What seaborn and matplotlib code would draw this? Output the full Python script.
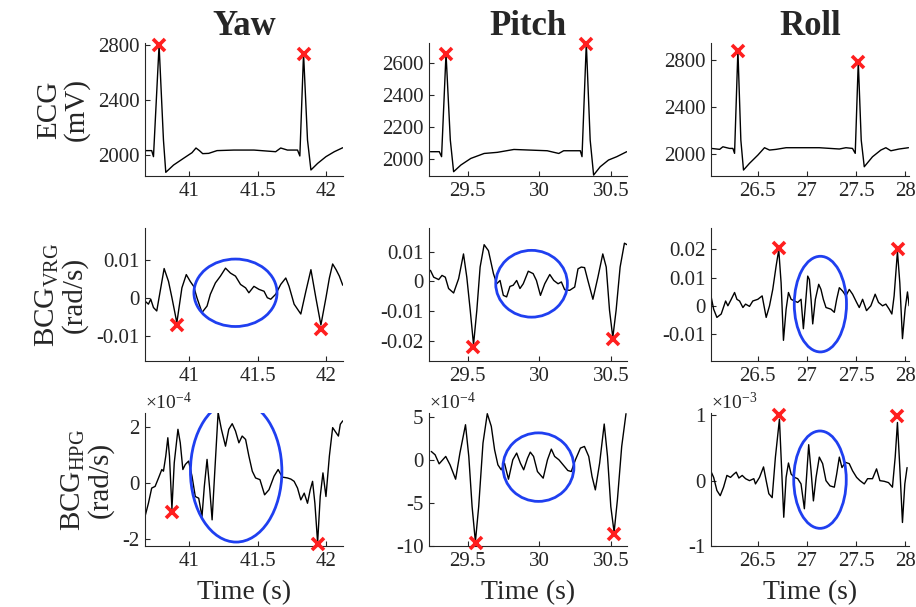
import matplotlib
matplotlib.use("Agg")
import matplotlib.pyplot as plt
from matplotlib.patches import Ellipse
from matplotlib.ticker import FuncFormatter
import seaborn as sns

# --- data ---
# Yaw
yaw_ecg_t = [40.676, 40.725, 40.738, 40.779, 40.811, 40.828, 40.885, 40.958, 41.020, 41.049,
             41.074, 41.098, 41.142, 41.203, 41.326, 41.473, 41.632, 41.669, 41.718, 41.792,
             41.809, 41.836, 41.865, 41.890, 41.939, 42.000, 42.061, 42.123]
yaw_ecg = [2032, 2032, 1988, 2800, 2109, 1874, 1927, 1976, 2017, 2051,
           2032, 2010, 2012, 2032, 2036, 2036, 2024, 2051, 2036, 2036,
           1993, 2739, 2109, 1891, 1939, 1988, 2024, 2053]

yaw_vrg_t = [40.676, 40.701, 40.718, 40.738, 40.762, 40.787, 40.816, 40.848, 40.873, 40.909,
             40.946, 40.978, 41.007, 41.032, 41.056, 41.093, 41.130, 41.154, 41.191, 41.228,
             41.265, 41.301, 41.338, 41.375, 41.412, 41.436, 41.473, 41.510, 41.547, 41.571,
             41.596, 41.632, 41.669, 41.706, 41.730, 41.767, 41.816, 41.853, 41.890, 41.926,
             41.963, 42.000, 42.025, 42.049, 42.074, 42.098, 42.123]
yaw_vrg = [-0.0009, -0.0017, -0.0004, -0.0026, -0.0035, 0.0017, 0.0077, 0.0043, 0.0000, -0.0066,
           0.0026, 0.0061, 0.0043, 0.0030, 0.0000, -0.0039, -0.0022, 0.0009, 0.0039, 0.0057,
           0.0078, 0.0065, 0.0057, 0.0035, 0.0026, 0.0013, 0.0030, 0.0022, 0.0017, 0.0000,
           -0.0004, 0.0009, 0.0035, 0.0052, 0.0030, -0.0017, -0.0043, 0.0017, 0.0074, 0.0000,
           -0.0072, 0.0000, 0.0052, 0.0089, 0.0074, 0.0057, 0.0033]

yaw_hpg_t = [40.676, 40.701, 40.725, 40.750, 40.775, 40.799, 40.811, 40.828, 40.843, 40.855,
             40.873, 40.890, 40.917, 40.934, 40.953, 40.971, 40.995, 41.020, 41.044, 41.069,
             41.093, 41.110, 41.130, 41.150, 41.167, 41.186, 41.211, 41.235, 41.265, 41.289,
             41.314, 41.338, 41.363, 41.387, 41.412, 41.436, 41.461, 41.485, 41.517, 41.551,
             41.583, 41.620, 41.650, 41.681, 41.718, 41.743, 41.767, 41.792, 41.816, 41.841,
             41.865, 41.885, 41.902, 41.919, 41.939, 41.958, 41.978, 42.000, 42.025, 42.049,
             42.074, 42.091, 42.105, 42.123]
yaw_hpg = [-1.19, -0.72, -0.18, -0.12, 0.18, 0.48, 0.42, 0.96, 1.61, 0.96,  # x1e-4
           -0.92, 0.72, 1.91, 1.43, 0.48, 0.66, 0.78, 0.24, -0.48, -0.54,
           -1.19, -0.12, 0.84, -0.24, -1.31, 0.36, 2.51, 1.91, 1.31, 1.91,
           2.11, 1.85, 1.43, 1.67, 1.55, 0.96, 0.42, 0.18, 0.12, -0.42,
           -0.24, 0.24, 0.48, 0.21, 0.18, 0.14, 0.06, -0.18, -0.60, -0.36,
           -0.72, -0.24, 0.06, -0.72, -2.12, -0.48, 0.36, -0.48, 0.96, 1.97,
           1.79, 1.67, 2.09, 2.21]

# Pitch
pitch_ecg_t = [29.241, 29.303, 29.319, 29.350, 29.380, 29.403, 29.454, 29.523, 29.616, 29.708,
               29.824, 29.940, 30.056, 30.137, 30.171, 30.287, 30.299, 30.329, 30.356, 30.380,
               30.426, 30.484, 30.542, 30.611]
pitch_ecg = [2048, 2048, 2017, 2662, 2121, 1923, 1965, 2006, 2037, 2044,
             2062, 2058, 2054, 2037, 2054, 2054, 2017, 2725, 2121, 1902,
             1954, 1996, 2017, 2048]

pitch_vrg_t = [29.241, 29.264, 29.299, 29.322, 29.345, 29.368, 29.403, 29.438, 29.472, 29.495,
               29.519, 29.542, 29.565, 29.588, 29.616, 29.646, 29.681, 29.704, 29.727, 29.750,
               29.773, 29.796, 29.819, 29.843, 29.866, 29.889, 29.924, 29.958, 29.981, 30.009,
               30.039, 30.074, 30.102, 30.132, 30.155, 30.178, 30.213, 30.248, 30.271, 30.294,
               30.317, 30.340, 30.375, 30.410, 30.444, 30.468, 30.491, 30.514, 30.537, 30.565,
               30.595, 30.613]
pitch_vrg = [0.0037, 0.0014, 0.0006, 0.0020, 0.0014, -0.0024, -0.0039, 0.0009, 0.0092, 0.0014,
             -0.0097, -0.0212, -0.0097, 0.0048, 0.0123, 0.0103, 0.0026, -0.0008, 0.0003, -0.0047,
             -0.0052, -0.0017, -0.0013, 0.0003, -0.0024, -0.0008, 0.0034, 0.0026, 0.0003, -0.0047,
             -0.0008, 0.0023, 0.0003, -0.0008, -0.0002, -0.0028, -0.0030, -0.0019, 0.0042, 0.0048,
             0.0046, 0.0003, -0.0060, 0.0014, 0.0092, 0.0048, -0.0097, -0.0188, -0.0097, 0.0048,
             0.0128, 0.0123]

pitch_hpg_t = [29.247, 29.274, 29.302, 29.327, 29.348, 29.378, 29.417, 29.447, 29.486, 29.509,
               29.532, 29.555, 29.578, 29.608, 29.638, 29.666, 29.689, 29.712, 29.735, 29.758,
               29.786, 29.816, 29.843, 29.869, 29.892, 29.919, 29.938, 29.961, 29.988, 30.028,
               30.058, 30.085, 30.108, 30.138, 30.173, 30.200, 30.224, 30.253, 30.288, 30.316,
               30.346, 30.369, 30.392, 30.422, 30.454, 30.477, 30.500, 30.523, 30.546, 30.576,
               30.606]
pitch_hpg = [0.97, 0.58, -0.47, 0.00, 0.39, -0.58, -2.25, 0.78, 4.07, 0.39,  # x1e-4
             -5.43, -9.50, -5.43, 1.94, 5.35, 3.88, 1.16, -0.58, -1.16, -0.39,
             -2.25, 0.00, 0.78, -0.39, -1.16, 0.19, 0.89, 0.39, -1.36, -2.13,
             0.00, 1.24, 0.39, 0.00, -0.70, -1.24, -1.36, 0.00, 1.36, 1.55,
             0.39, -1.94, -3.49, -0.39, 4.15, 0.39, -5.43, -8.40, -4.65, 1.55,
             5.35]

# Roll
roll_ecg_t = [26.026, 26.111, 26.144, 26.212, 26.246, 26.263, 26.297, 26.327, 26.354, 26.415,
              26.500, 26.568, 26.619, 26.686, 26.788, 27.126, 27.330, 27.397, 27.464, 27.492,
              27.523, 27.553, 27.584, 27.668, 27.753, 27.804, 27.855, 27.939, 28.034]
roll_ecg = [2048, 2040, 2062, 2048, 2048, 2006, 2885, 2119, 1864, 1921,
            1991, 2054, 2034, 2040, 2054, 2054, 2043, 2054, 2048, 2006,
            2786, 2119, 1892, 1977, 2034, 2054, 2028, 2043, 2054]

roll_vrg_t = [26.026, 26.050, 26.083, 26.127, 26.172, 26.195, 26.229, 26.263, 26.287, 26.314,
              26.348, 26.375, 26.415, 26.449, 26.500, 26.544, 26.585, 26.619, 26.652, 26.686,
              26.713, 26.737, 26.761, 26.788, 26.812, 26.839, 26.873, 26.906, 26.940, 26.964,
              26.984, 27.008, 27.025, 27.042, 27.059, 27.086, 27.120, 27.143, 27.167, 27.194,
              27.245, 27.279, 27.303, 27.330, 27.364, 27.397, 27.431, 27.465, 27.506, 27.533,
              27.567, 27.607, 27.651, 27.695, 27.729, 27.770, 27.804, 27.838, 27.865, 27.888,
              27.922, 27.946, 27.973, 28.000, 28.024, 28.041]
roll_vrg = [0.0029, -0.0012, -0.0041, -0.0029, 0.0017, 0.0000, 0.0023, 0.0047, 0.0023, 0.0017,
            -0.0006, 0.0006, -0.0002, 0.0017, 0.0023, 0.0035, -0.0041, 0.0000, 0.0058, 0.0140,
            0.0198, 0.0081, -0.0122, -0.0012, 0.0047, 0.0023, 0.0017, 0.0012, 0.0023, -0.0081,
            0.0000, 0.0105, 0.0093, 0.0023, -0.0064, 0.0023, 0.0076, 0.0058, 0.0023, -0.0006,
            -0.0012, -0.0023, 0.0023, 0.0064, 0.0052, 0.0035, 0.0058, 0.0041, 0.0012, -0.0006,
            0.0023, -0.0017, 0.0000, 0.0041, 0.0012, 0.0000, 0.0006, -0.0012, -0.0029, 0.0035,
            0.0192, 0.0081, -0.0116, -0.0012, 0.0049, 0.0000]

roll_hpg_t = [26.026, 26.050, 26.083, 26.117, 26.151, 26.185, 26.222, 26.256, 26.280, 26.307,
              26.341, 26.375, 26.415, 26.459, 26.476, 26.517, 26.558, 26.585, 26.612, 26.646,
              26.679, 26.720, 26.737, 26.764, 26.788, 26.812, 26.839, 26.873, 26.906, 26.940,
              26.974, 26.998, 27.018, 27.042, 27.066, 27.093, 27.126, 27.160, 27.194, 27.235,
              27.279, 27.303, 27.330, 27.357, 27.391, 27.431, 27.465, 27.506, 27.540, 27.584,
              27.618, 27.668, 27.709, 27.743, 27.787, 27.831, 27.871, 27.899, 27.922, 27.946,
              27.973, 27.997, 28.020]
roll_hpg = [0.13, 0.05, -0.15, -0.23, -0.10, 0.08, 0.05, 0.10, 0.13, 0.04,  # x1e-3
            0.08, 0.03, 0.00, 0.03, -0.05, 0.05, 0.21, 0.00, -0.20, -0.26,
            0.36, 0.94, 0.36, -0.56, 0.05, 0.27, 0.10, 0.05, 0.03, -0.05,
            -0.43, 0.10, 0.55, 0.15, -0.31, 0.05, 0.36, 0.26, 0.00, -0.08,
            -0.10, 0.10, 0.36, 0.20, 0.28, 0.26, 0.15, 0.05, 0.00, -0.05,
            0.03, 0.03, 0.18, 0.00, -0.01, -0.03, -0.10, 0.36, 0.89, 0.20,
            -0.64, -0.05, 0.20]

# detected peaks (red x)
yaw_ecg_pk_t, yaw_ecg_pk = [40.779, 41.836], [2800, 2734]
yaw_vrg_pk_t, yaw_vrg_pk = [40.909, 41.966], [-0.0072, -0.0083]
yaw_hpg_pk_t, yaw_hpg_pk = [40.873, 41.939], [-1.04, -2.17]
pitch_ecg_pk_t, pitch_ecg_pk = [29.350, 30.329], [2656, 2719]
pitch_vrg_pk_t, pitch_vrg_pk = [29.540, 30.512], [-0.0219, -0.0194]
pitch_hpg_pk_t, pitch_hpg_pk = [29.556, 30.524], [-9.6, -8.6]
roll_ecg_pk_t, roll_ecg_pk = [26.297, 27.523], [2879, 2786]
roll_vrg_pk_t, roll_vrg_pk = [26.711, 27.924], [0.0203, 0.0200]
roll_hpg_pk_t, roll_hpg_pk = [26.720, 27.922], [1.01, 0.99]

col_titles = ["Yaw", "Pitch", "Roll"]
row_labels = ["ECG\n(mV)", "BCG$_{\\mathrm{VRG}}$\n(rad/s)", "BCG$_{\\mathrm{HPG}}$\n(rad/s)"]

# --- style ---
sns.set_style("ticks")
plt.rcParams["font.family"] = ["Liberation Serif", "DejaVu Serif"]
plt.rcParams["mathtext.fontset"] = "custom"
plt.rcParams["mathtext.rm"] = "Liberation Serif"
plt.rcParams["mathtext.it"] = "Liberation Serif:italic"
plt.rcParams["mathtext.bf"] = "Liberation Serif:bold"
plt.rcParams["axes.unicode_minus"] = False

AX_COLOR = "#262626"
BLUE = "#1f3ff0"
RED = "#ff1f1f"

panels = [
    # row 0: ECG
    [dict(t=yaw_ecg_t, v=yaw_ecg, pt=yaw_ecg_pk_t, pv=yaw_ecg_pk, xlim=(40.676, 42.125),
          ylim=(1847, 2815), yt=[2000, 2400, 2800], xt=[41, 41.5, 42]),
     dict(t=pitch_ecg_t, v=pitch_ecg, pt=pitch_ecg_pk_t, pv=pitch_ecg_pk, xlim=(29.231, 30.613),
          ylim=(1896, 2727), yt=[2000, 2200, 2400, 2600], xt=[29.5, 30, 30.5]),
     dict(t=roll_ecg_t, v=roll_ecg, pt=roll_ecg_pk_t, pv=roll_ecg_pk, xlim=(26.023, 28.04),
          ylim=(1813, 2945), yt=[2000, 2400, 2800], xt=[26.5, 27, 27.5, 28])],
    # row 1: BCG VRG
    [dict(t=yaw_vrg_t, v=yaw_vrg, pt=yaw_vrg_pk_t, pv=yaw_vrg_pk, xlim=(40.676, 42.125),
          ylim=(-0.0167, 0.0184), yt=[-0.01, 0, 0.01], xt=[41, 41.5, 42],
          ell=((41.338, 0.0013), 0.608, 0.0178)),
     dict(t=pitch_vrg_t, v=pitch_vrg, pt=pitch_vrg_pk_t, pv=pitch_vrg_pk, xlim=(29.231, 30.613),
          ylim=(-0.0267, 0.0179), yt=[-0.02, -0.01, 0, 0.01], xt=[29.5, 30, 30.5],
          ell=((29.947, -0.0008), 0.50, 0.0224)),
     dict(t=roll_vrg_t, v=roll_vrg, pt=roll_vrg_pk_t, pv=roll_vrg_pk, xlim=(26.023, 28.04),
          ylim=(-0.0195, 0.0275), yt=[-0.01, 0, 0.01, 0.02], xt=[26.5, 27, 27.5, 28],
          ell=((27.137, 0.0006), 0.532, 0.0338))],
    # row 2: BCG HPG
    [dict(t=yaw_hpg_t, v=yaw_hpg, pt=yaw_hpg_pk_t, pv=yaw_hpg_pk, xlim=(40.676, 42.125),
          ylim=(-2.24, 2.49), yt=[-2, 0, 2], xt=[41, 41.5, 42],
          ell=((41.343, 0.42), 0.669, 5.04), exp="-4"),
     dict(t=pitch_hpg_t, v=pitch_hpg, pt=pitch_hpg_pk_t, pv=pitch_hpg_pk, xlim=(29.231, 30.613),
          ylim=(-10, 5.43), yt=[-10, -5, 0, 5], xt=[29.5, 30, 30.5],
          ell=((29.995, -0.85), 0.495, 7.95), exp="-4"),
     dict(t=roll_hpg_t, v=roll_hpg, pt=roll_hpg_pk_t, pv=roll_hpg_pk, xlim=(26.023, 28.04),
          ylim=(-1, 1.035), yt=[-1, 0, 1], xt=[26.5, 27, 27.5, 28],
          ell=((27.133, 0.015), 0.535, 1.49), exp="-3")],
]

fig = plt.figure(figsize=(9.16, 6.07), dpi=100)
lefts = [0.1583, 0.4683, 0.7762]
bottoms = [0.7100, 0.4053, 0.1005]
fmt = FuncFormatter(lambda x, p: f"{x:g}")

for r in range(3):
    for c in range(3):
        p = panels[r][c]
        ax = fig.add_axes([lefts[c], bottoms[r], 0.2162, 0.2191])
        sns.lineplot(x=p["t"], y=p["v"], ax=ax, color="black", linewidth=1.0,
                     estimator=None, sort=False)
        ax.plot(p["pt"], p["pv"], "x", color=RED, ms=9, mew=2.6, clip_on=False, zorder=5)
        if "ell" in p:
            (cx, cy), w, h = p["ell"]
            ax.add_patch(Ellipse((cx, cy), w, h, fill=False, ec=BLUE, lw=2.0, zorder=4))
        ax.set_xlim(*p["xlim"])
        ax.set_ylim(*p["ylim"])
        ax.set_xticks(p["xt"])
        ax.set_yticks(p["yt"])
        ax.xaxis.set_major_formatter(fmt)
        ax.yaxis.set_major_formatter(fmt)
        sns.despine(ax=ax)
        for s in ("left", "bottom"):
            ax.spines[s].set_color(AX_COLOR)
            ax.spines[s].set_linewidth(0.8)
        ax.tick_params(direction="in", length=3.5, width=0.8, colors=AX_COLOR,
                       labelsize=15, pad=4)
        ax.set_xlabel("")
        ax.set_ylabel("")
        if "exp" in p:
            ax.text(0.0, 1.0, r"$\times$10$^{%s}$" % p["exp"], transform=ax.transAxes,
                    ha="left", va="bottom", fontsize=14, color=AX_COLOR)
        if r == 0:
            ax.set_title(col_titles[c], fontsize=25, fontweight="bold", pad=6)
        if c == 0:
            ax.set_ylabel(row_labels[r], fontsize=21, color=AX_COLOR, labelpad=6,
                          linespacing=1.0)
        if r == 2:
            ax.set_xlabel("Time (s)", fontsize=20, color=AX_COLOR, labelpad=7)

fig.savefig("out.png", dpi=100)
